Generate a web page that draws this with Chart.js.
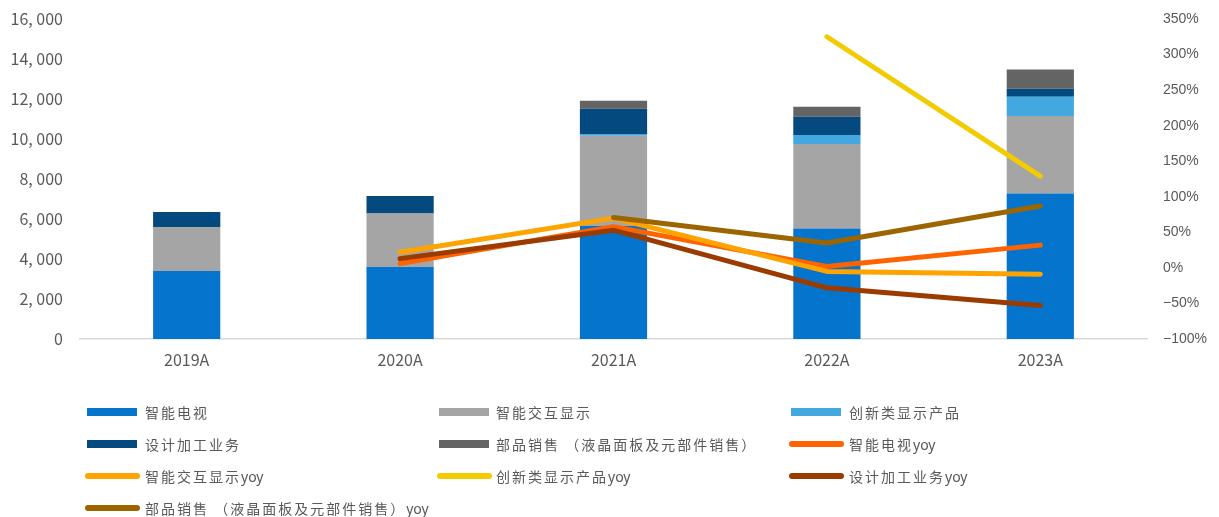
<!DOCTYPE html>
<html>
<head>
<meta charset="utf-8">
<script src="https://cdn.jsdelivr.net/npm/chart.js@4.4.1/dist/chart.umd.min.js"></script>
<style>
  html, body { margin: 0; padding: 0; background: #fff; }
  body { width: 1219px; height: 517px; overflow: hidden; position: relative; font-family: "Noto Sans CJK SC", "Noto Sans", sans-serif; }
  #wrap { position: absolute; left: 0; top: 0; width: 1219px; height: 380px; }
  #legend { position: absolute; left: 0; top: 0; width: 1219px; height: 517px; }
  .mark { position: absolute; }
  .label { position: absolute; color: #595959; font-size: 14px; line-height: 20px; white-space: nowrap; }
  .label .cjk { letter-spacing: 2px; }
  .label .lat { font-family: "Noto Sans", sans-serif; }
</style>
</head>
<body>
<div id="wrap"><canvas id="c"></canvas></div>
<div id="legend"></div>
<script>
// Categories (fiscal years)
const years = ['2019A', '2020A', '2021A', '2022A', '2023A'];

// Revenue by segment (stacked bars, left axis)
const smartTV      = [3400, 3600, 5650, 5520, 7280];
const interactive  = [2200, 2670, 4510, 4230, 3870];
const innovative   = [null, null, 85, 450, 965];
const designMfg    = [750, 880, 1265, 915, 400];
const components   = [null, null, 400, 500, 965];

// Year-over-year growth in % (lines, right axis)
const smartTVYoy     = [null, 6, 58, 2, 32];
const interactiveYoy = [null, 22, 70, -5, -9];
const innovativeYoy  = [null, null, null, 325, 129];
const designMfgYoy   = [null, 13, 53, -28, -53];
const componentsYoy  = [null, null, 71, 35, 87];

// Axis tick ranges
const leftTicks  = { min: 0, max: 16000, step: 2000 };
const rightTicks = { min: -100, max: 350, step: 50 };

const barSeries = [
  { label: '智能电视', data: smartTV, color: '#0474CC' },
  { label: '智能交互显示', data: interactive, color: '#A5A5A5' },
  { label: '创新类显示产品', data: innovative, color: '#44A8E0' },
  { label: '设计加工业务', data: designMfg, color: '#044A7F' },
  { label: '部品销售 （液晶面板及元部件销售）', data: components, color: '#646464' }
];
const lineSeries = [
  { label: '智能电视yoy', data: smartTVYoy, color: '#FF6300' },
  { label: '智能交互显示yoy', data: interactiveYoy, color: '#FFA300' },
  { label: '创新类显示产品yoy', data: innovativeYoy, color: '#F2CB00' },
  { label: '设计加工业务yoy', data: designMfgYoy, color: '#9C3B00' },
  { label: '部品销售 （液晶面板及元部件销售）yoy', data: componentsYoy, color: '#9C6500' }
];

const datasets = [];
barSeries.forEach(s => datasets.push({
  type: 'bar', label: s.label, data: s.data, backgroundColor: s.color,
  borderWidth: 0, yAxisID: 'y', stack: 'rev', order: 20,
  barPercentage: 0.315, categoryPercentage: 1
}));
// later lines sit on top of earlier ones
lineSeries.forEach((s, i) => datasets.push({
  type: 'line', label: s.label, data: s.data, borderColor: s.color, backgroundColor: s.color,
  borderWidth: 5, pointRadius: 0, pointHoverRadius: 0, tension: 0,
  borderCapStyle: 'round', borderJoinStyle: 'round', spanGaps: false,
  yAxisID: 'y1', order: 10 - i
}));

const thousands = v => {
  const s = String(Math.abs(v));
  return s.length > 3 ? s.slice(0, s.length - 3) + ', ' + s.slice(-3) : s;
};

// vertical axes: fixed width, no extra label padding so the plot spans 19..339
const fixWidth = w => s => { s.width = w; s.paddingTop = 0; s.paddingBottom = 0; };

const chart = new Chart(document.getElementById('c'), {
  data: { labels: years, datasets },
  options: {
    responsive: true, maintainAspectRatio: false, animation: false,
    layout: { padding: { top: 19, bottom: 0, left: 0, right: 0 } },
    plugins: { legend: { display: false }, tooltip: { enabled: false } },
    scales: {
      x: {
        stacked: true,
        grid: { display: false, drawTicks: false },
        border: { display: true, color: '#D9D9D9', width: 1.5 },
        ticks: { color: '#595959', padding: 11, font: { family: '"Noto Sans CJK SC"', size: 16 } },
        afterFit: s => { s.height = 41; s.paddingLeft = 0; s.paddingRight = 0; }
      },
      y: {
        stacked: true, position: 'left',
        min: leftTicks.min, max: leftTicks.max,
        grid: { display: false, drawTicks: false },
        border: { display: false },
        ticks: { stepSize: leftTicks.step, color: '#595959', padding: 17,
          font: { family: '"Noto Sans CJK SC"', size: 16 }, callback: v => thousands(v) },
        afterFit: fixWidth(80)
      },
      y1: {
        position: 'right',
        min: rightTicks.min, max: rightTicks.max,
        grid: { display: false, drawTicks: false },
        border: { display: false },
        ticks: { stepSize: rightTicks.step, color: '#595959', padding: 16,
          font: { family: '"Liberation Sans"', size: 14 },
          callback: v => (v < 0 ? '\u2212' + Math.abs(v) : v) + '%' },
        afterFit: fixWidth(72)
      }
    }
  }
});

// Legend grid: three columns, bars then lines
const legend = document.getElementById('legend');
const markLeft = [87, 439, 791];
const textLeft = [145, 496, 849];
const rowY = [412, 444, 476, 508];
const entries = barSeries.map(s => ({ ...s, kind: 'bar' }))
  .concat(lineSeries.map(s => ({ ...s, kind: 'line' })));
entries.forEach((e, i) => {
  const col = i % 3, row = Math.floor(i / 3);
  const m = document.createElement('div');
  m.className = 'mark';
  m.style.background = e.color;
  if (e.kind === 'bar') {
    m.style.left = markLeft[col] + 'px'; m.style.width = '50px';
    m.style.top = (rowY[row] - 4) + 'px'; m.style.height = '8px';
  } else {
    m.style.left = (markLeft[col] - 2) + 'px'; m.style.width = '55px';
    m.style.top = (rowY[row] - 3) + 'px'; m.style.height = '6px';
    m.style.borderRadius = '3px';
  }
  legend.appendChild(m);
  const t = document.createElement('div');
  t.className = 'label';
  t.style.left = textLeft[col] + 'px';
  t.style.top = (rowY[row] - 10) + 'px';
  const m2 = e.label.match(/^(.*?)(yoy)?$/);
  const c = document.createElement('span'); c.className = 'cjk'; c.textContent = m2[1]; t.appendChild(c);
  if (m2[2]) { const l = document.createElement('span'); l.className = 'lat'; l.textContent = m2[2]; t.appendChild(l); }
  legend.appendChild(t);
});
</script>
</body>
</html>
